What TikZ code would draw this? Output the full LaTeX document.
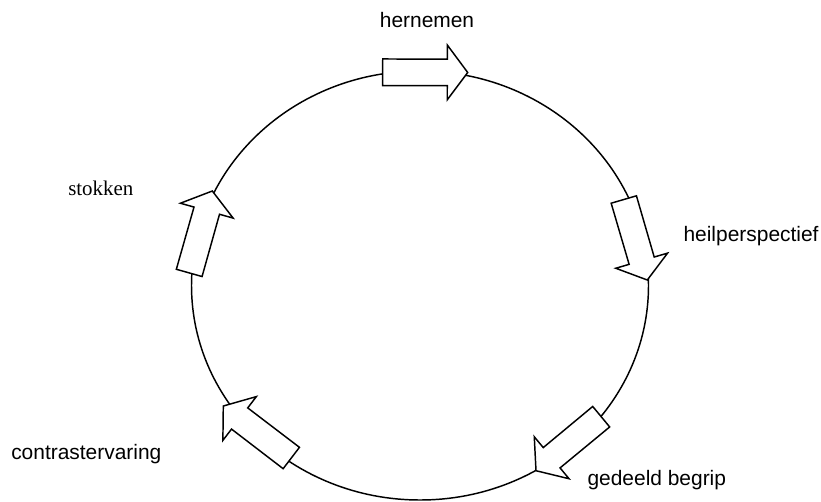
\documentclass[tikz,border=0pt]{standalone}
\usepackage{fontspec}
\setmainfont{Liberation Sans}
\newfontfamily\serifface{Liberation Serif}
\usetikzlibrary{calc}
\tikzset{
  cycleline/.style={draw=black, line width=1.1pt},
  arrowbox/.style={draw=black, fill=white, line width=1.1pt, line join=miter},
  lbl/.style={inner sep=0pt, anchor=base west, font=\fontsize{15.7}{19}\selectfont},
}
\newcommand{\blockarr}[3]{%
  \coordinate (#1-t) at (#2);
  \coordinate (#1-p) at (#3);
  \coordinate (#1-h) at ($(#1-t)!0.76!(#1-p)$);
  \draw[arrowbox] ($(#1-t)!0.157!90:(#1-p)$) -- ($(#1-h)!0.649!90:(#1-p)$)
    -- ($(#1-h)!1.341!90:(#1-p)$) -- (#1-p) -- ($(#1-h)!1.341!-90:(#1-p)$)
    -- ($(#1-h)!0.649!-90:(#1-p)$) -- ($(#1-t)!0.157!-90:(#1-p)$) -- cycle;
}
\begin{document}
\begin{tikzpicture}[x=0.75pt, y=-0.75pt]
  \useasboundingbox (0,0) rectangle (821,501);
  \coordinate (c) at (420,285.5);
  \draw[cycleline] (c) ellipse [x radius=228.5, y radius=214.5];
  \blockarr{top}{382.7,72.3}{467.7,72.5}
  \blockarr{right}{623.8,199.5}{647.3,280}
  \blockarr{br}{601.2,416.7}{536,470.7}
  \blockarr{bl}{291.3,458}{223.3,406}
  \blockarr{left}{189.2,272.9}{212.3,191}
  \node[lbl, anchor=base] (hernemen) at (427,27) {hernemen};
  \node[lbl] (heil) at (683.3,241.7) {heilperspectief};
  \node[lbl] (gedeeld) at (587.3,485) {gedeeld begrip};
  \node[lbl] (contrast) at (11,459.3) {contrastervaring};
  \node[lbl, font=\serifface\fontsize{15.7}{19}\selectfont] (stokken) at (68,195) {stokken};
\end{tikzpicture}
\end{document}
